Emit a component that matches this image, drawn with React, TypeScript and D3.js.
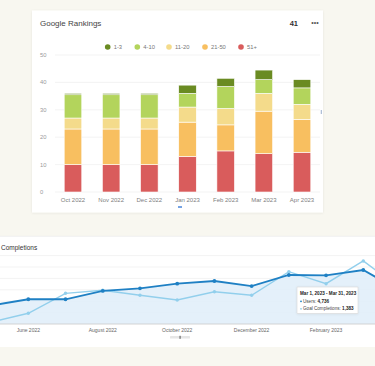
import * as d3 from 'd3';
import React from 'react';

// Google Rankings (stacked bars)
const rankMonths = ['Oct 2022', 'Nov 2022', 'Dec 2022', 'Jan 2023', 'Feb 2023', 'Mar 2023', 'Apr 2023'];
const rankKeys = ['1-3', '4-10', '11-20', '21-50', '51+'];
const pos1to3 = [0.5, 0.5, 0.5, 3, 3, 3.5, 3];
const pos4to10 = [8.5, 8.5, 8.5, 5, 8, 5, 6];
const pos11to20 = [4, 4, 4, 5.5, 6, 6.5, 5.5];
const pos21to50 = [13, 13, 13, 12.5, 9.5, 15.5, 12];
const pos51plus = [10, 10, 10, 13, 15, 14, 14.5];
const rankTicks = [0, 10, 20, 30, 40, 50];

// Analytics (users vs goal completions)
const gaMonths = [
  'May 2022', 'June 2022', 'July 2022', 'August 2022', 'September 2022', 'October 2022',
  'November 2022', 'December 2022', 'January 2023', 'February 2023', 'March 2023', 'April 2023',
];
const gaTickLabels = ['June 2022', 'August 2022', 'October 2022', 'December 2022', 'February 2023'];
const users = [1620, 2170, 2170, 2900, 3130, 3540, 3770, 3330, 4300, 4270, 4736, 2900];
const goals = [40, 235, 673, 739, 629, 526, 708, 629, 1147, 884, 1383, 770];
const usersGrid = [1000, 2000, 3000, 4000, 5000, 6000];

const colors: Record<string, string> = {
  '1-3': '#6a8b22',
  '4-10': '#b3d45c',
  '11-20': '#f4db8b',
  '21-50': '#f8bf60',
  '51+': '#d95c5c',
};

const font = '"Liberation Sans", Arial, sans-serif';

export default function App() {
  const W = 375;
  const H = 366;

  const table = rankMonths.map((m, i) => ({
    month: m,
    '1-3': pos1to3[i],
    '4-10': pos4to10[i],
    '11-20': pos11to20[i],
    '21-50': pos21to50[i],
    '51+': pos51plus[i],
  }));
  const stacked = d3.stack<any>().keys(['51+', '21-50', '11-20', '4-10', '1-3'])(table);
  const x = d3.scaleBand().domain(rankMonths).range([53.9, 321.1]).paddingInner(0.54).paddingOuter(0.27);
  const y = d3.scaleLinear().domain([0, 50]).range([192, 55]);
  const lastTotal = d3.sum(rankKeys, (k) => (table[table.length - 1] as any)[k]);

  const gx = d3.scalePoint().domain(gaMonths).range([-8.9, 400.5]);
  const gyUsers = d3.scaleLinear().domain([0, 6000]).range([324, 255.6]);
  const gyGoals = d3.scaleLinear().domain([0, 1500]).range([324, 255.6]);
  const usersLine = d3.line<number>().x((_, i) => gx(gaMonths[i])!).y((d) => gyUsers(d));
  const goalsLine = d3.line<number>().x((_, i) => gx(gaMonths[i])!).y((d) => gyGoals(d));
  const usersArea = d3
    .area<number>()
    .x((_, i) => gx(gaMonths[i])!)
    .y0(gyUsers(0))
    .y1((d) => gyUsers(d));
  const tipIdx = gaMonths.indexOf('March 2023');
  const fmt = d3.format(',');

  const legendX = [107.7, 137.3, 169, 205, 241];

  return (
    <svg width={W} height={H} style={{ position: 'absolute', left: 0, top: 0 }} fontFamily={font}>
      <defs>
        <clipPath id="gaClip">
          <rect x={0} y={236} width={W} height={111} />
        </clipPath>
        <filter id="shadow" x="-10%" y="-10%" width="120%" height="120%">
          <feDropShadow dx="0" dy="0.5" stdDeviation="1" floodColor="#000" floodOpacity="0.08" />
        </filter>
      </defs>
      <rect width={W} height={H} fill="#f8f7f0" />

      {/* top card */}
      <rect x={32} y={10.5} width={291} height={202} fill="#fff" filter="url(#shadow)" />
      <text x={40} y={26} fontSize={8} fill="#444">Google Rankings</text>
      <text x={298} y={26} fontSize={7.5} fontWeight="bold" fill="#333" textAnchor="end">
        {Math.round(lastTotal)}
      </text>
      <text x={315} y={25} fontSize={7} fill="#555" textAnchor="middle">•••</text>

      {rankKeys.map((k, i) => (
        <g key={k}>
          <circle cx={legendX[i]} cy={47} r={2.8} fill={colors[k]} />
          <text x={legendX[i] + 6} y={49.2} fontSize={5.8} fill="#777">{k}</text>
        </g>
      ))}

      {rankTicks.map((t) => (
        <g key={t}>
          <line x1={55} x2={320} y1={y(t)} y2={y(t)} stroke="#f0f0f0" strokeWidth={0.8} />
          <text x={40} y={y(t) + 2} fontSize={5.8} fill="#9a9a9a">{t}</text>
        </g>
      ))}

      {stacked.map((layer) => (
        <g key={layer.key} fill={colors[layer.key]}>
          {layer.map((d, i) => (
            <rect
              key={i}
              x={x(rankMonths[i])}
              y={y(d[1])}
              width={x.bandwidth()}
              height={Math.max(0, y(d[0]) - y(d[1]))}
              stroke="#fff"
              strokeWidth={0.6}
            />
          ))}
        </g>
      ))}

      {rankMonths.map((m) => (
        <text key={m} x={x(m)! + x.bandwidth() / 2} y={202} fontSize={6} fill="#808080" textAnchor="middle">
          {m}
        </text>
      ))}
      <rect x={178} y={206.3} width={4} height={1.4} fill="#3b7dd8" />
      <rect x={320.8} y={110} width={0.9} height={4} fill="#8fa6c8" />

      {/* bottom card */}
      <rect x={0} y={236} width={W} height={111} fill="#fff" />
      <line x1={0} x2={W} y1={236.3} y2={236.3} stroke="#ececec" strokeWidth={0.8} />
      <text x={1} y={250} fontSize={6.5} fill="#333">Completions</text>

      <g clipPath="url(#gaClip)">
        {usersGrid.map((t) => (
          <line key={t} x1={0} x2={W} y1={gyUsers(t)} y2={gyUsers(t)} stroke="#eeeeee" strokeWidth={0.7} />
        ))}
        <path d={usersArea(users)!} fill="#e1eef9" opacity={0.9} />
        <line x1={0} x2={W} y1={gyUsers(0)} y2={gyUsers(0)} stroke="#c9c9c9" strokeWidth={0.8} />
        <path d={goalsLine(goals)!} fill="none" stroke="#92cfec" strokeWidth={1.4} />
        {goals.map((v, i) => (
          <circle key={i} cx={gx(gaMonths[i])} cy={gyGoals(v)} r={1.7} fill="#92cfec" />
        ))}
        <path d={usersLine(users)!} fill="none" stroke="#1f80c4" strokeWidth={1.8} />
        {users.map((v, i) => (
          <circle key={i} cx={gx(gaMonths[i])} cy={gyUsers(v)} r={1.9} fill="#1f80c4" />
        ))}
      </g>

      {gaTickLabels.map((m) => (
        <text key={m} x={gx(m)} y={332} fontSize={5} fill="#666" textAnchor="middle">{m}</text>
      ))}
      <rect x={170} y={336} width={20} height={2.5} fill="#e6e6e6" rx={0.5} />
      <rect x={179.3} y={335.8} width={1.6} height={3} fill="#888" />

      {/* tooltip */}
      <g>
        <rect x={297} y={287} width={61} height={26.5} fill="#fff" stroke="#d6d6d6" strokeWidth={0.6} filter="url(#shadow)" />
        <text x={300} y={294.5} fontSize={4.6} fontWeight="bold" fill="#222">
          Mar 1, 2023 - Mar 31, 2023
        </text>
        <circle cx={301} cy={301.3} r={0.9} fill="#1f80c4" />
        <text x={303} y={302.8} fontSize={4.6} fill="#444">
          Users: <tspan fontWeight="bold" fill="#222">{fmt(users[tipIdx])}</tspan>
        </text>
        <circle cx={301} cy={308.8} r={0.9} fill="#92cfec" />
        <text x={303} y={310.3} fontSize={4.6} fill="#444">
          Goal Completions: <tspan fontWeight="bold" fill="#222">{fmt(goals[tipIdx])}</tspan>
        </text>
      </g>
    </svg>
  );
}
